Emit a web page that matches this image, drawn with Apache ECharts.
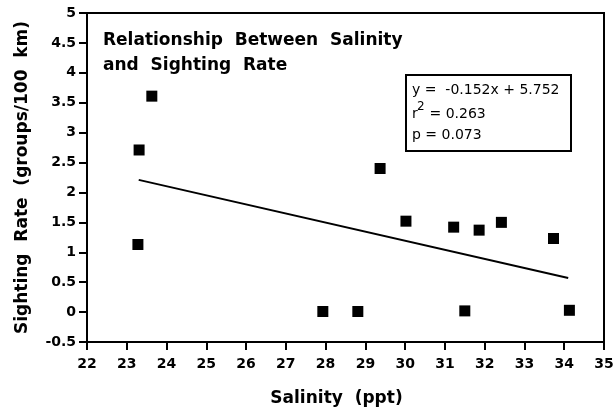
<!DOCTYPE html>
<html>
<head>
<meta charset="utf-8">
<script src="https://cdn.jsdelivr.net/npm/echarts@6/dist/echarts.min.js"></script>
<style>
  html, body { margin: 0; padding: 0; background: #fff; }
  #chart { width: 616px; height: 409px; }
</style>
</head>
<body>
<div id="chart"></div>
<script>
// Salinity (ppt) and sighting rate (groups/100 km) for each survey
const salinity = [23.28, 23.31, 23.63, 27.93, 28.81, 29.37, 30.02, 31.22, 31.50, 31.86, 32.42, 33.73, 34.13];
const sightingRate = [1.13, 2.71, 3.61, 0.01, 0.01, 2.40, 1.52, 1.42, 0.02, 1.37, 1.50, 1.23, 0.03];

// Least-squares fit stated in the annotation
const slope = -0.152;
const intercept = 5.752;
const rSquared = '0.263';
const pValue = '0.073';
const fitRange = [23.3, 34.1];

const xTicks = { min: 22, max: 35, interval: 1 };
const yTicks = { min: -0.5, max: 5, interval: 0.5 };

const titleLines = ['Relationship  Between  Salinity', 'and  Sighting  Rate'];
const xTitle = 'Salinity  (ppt)';
const yTitle = 'Sighting  Rate  (groups/100  km)';

const points = salinity.map((x, i) => [x, sightingRate[i]]);
const fitLine = fitRange.map(x => [x, slope * x + intercept]);

const FONT = '"DejaVu Sans", Verdana, sans-serif';
const chart = echarts.init(document.getElementById('chart'));

const axisCommon = {
  axisLine: { show: true, onZero: false, lineStyle: { color: '#000', width: 2 } },
  axisTick: { show: true, inside: false, length: 8, lineStyle: { color: '#000', width: 2 } },
  splitLine: { show: false },
  axisLabel: { color: '#000', fontFamily: FONT, fontWeight: 'bold', fontSize: 14 }
};
const nameStyle = { color: '#000', fontFamily: FONT, fontWeight: 'bold', fontSize: 17 };

chart.setOption({
  animation: false,
  backgroundColor: '#fff',
  grid: {
    left: 87, right: 12, top: 13, bottom: 67,
    outerBoundsMode: 'none', containLabel: false,
    show: true, borderColor: '#000', borderWidth: 2
  },
  xAxis: Object.assign({}, axisCommon, {
    type: 'value',
    min: xTicks.min, max: xTicks.max, interval: xTicks.interval,
    name: xTitle,
    nameLocation: 'middle',
    nameGap: 48,
    nameTextStyle: Object.assign({}, nameStyle, { padding: [0, 18, 0, 0] }),
    axisLabel: Object.assign({}, axisCommon.axisLabel, { margin: 15 })
  }),
  yAxis: Object.assign({}, axisCommon, {
    type: 'value',
    min: yTicks.min, max: yTicks.max, interval: yTicks.interval,
    name: yTitle,
    nameLocation: 'middle',
    nameGap: 56,
    nameTextStyle: nameStyle,
    axisLabel: Object.assign({}, axisCommon.axisLabel, { margin: 11 })
  }),
  series: [
    {
      type: 'scatter',
      data: points,
      symbol: 'rect',
      symbolSize: 11,
      itemStyle: { color: '#000', opacity: 1 },
      z: 3
    },
    {
      type: 'line',
      data: fitLine,
      showSymbol: false,
      lineStyle: { color: '#000', width: 2 },
      z: 2
    }
  ],
  graphic: [
    {
      type: 'text', left: 103, top: 28,
      style: { text: titleLines.join('\n'), fill: '#000', font: 'bold 17px ' + FONT, lineHeight: 25 }
    },
    {
      type: 'group', left: 405, top: 74,
      children: [
        { type: 'rect', shape: { x: 0, y: 0, width: 165, height: 76 },
          style: { fill: '#fff', stroke: '#000', lineWidth: 2 } },
        { type: 'text', x: 6, y: 8,
          style: { text: 'y =  ' + slope.toFixed(3) + 'x + ' + intercept.toFixed(3), fill: '#000', font: '14px ' + FONT } },
        { type: 'text', x: 6, y: 32,
          style: { text: 'r', fill: '#000', font: '14px ' + FONT } },
        { type: 'text', x: 11, y: 26,
          style: { text: '2', fill: '#000', font: '12px ' + FONT } },
        { type: 'text', x: 19, y: 32,
          style: { text: ' = ' + rSquared, fill: '#000', font: '14px ' + FONT } },
        { type: 'text', x: 6, y: 53,
          style: { text: 'p = ' + pValue, fill: '#000', font: '14px ' + FONT } }
      ]
    }
  ]
});
</script>
</body>
</html>
